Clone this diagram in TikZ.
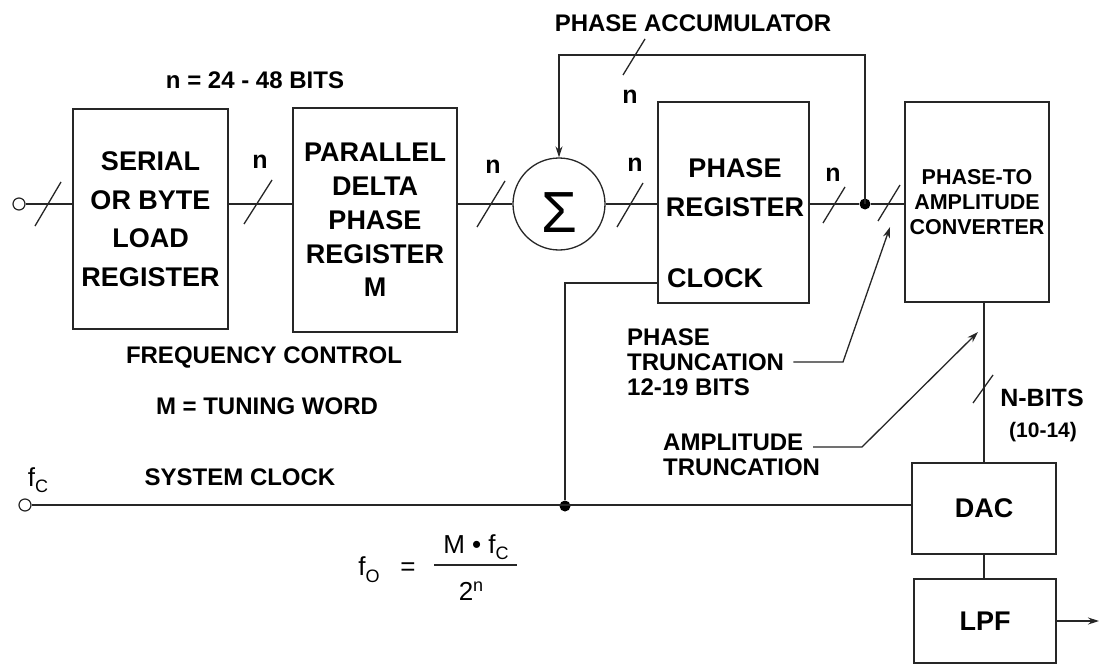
\documentclass[tikz,border=0pt]{standalone}
\usepackage{fontspec}
\setmainfont{Liberation Sans}
\usetikzlibrary{arrows.meta,calc}
\newcommand\busslash[3]{\draw[conn] ([shift={(-#2,#3)}]#1) -- ([shift={(#2,-#3)}]#1);}
\newcommand\subtxt[2]{\raisebox{#1}{\fontsize{18}{18}\selectfont #2}}
\begin{document}
\begin{tikzpicture}[x=1pt,y=-1pt,
 box/.style={draw=black!85,line width=1.8pt,inner sep=0pt,align=center,font=\fontsize{27}{38.5}\selectfont\bfseries},
 boxtext/.style={inner sep=0pt,align=center,font=\fontsize{27}{39}\selectfont\bfseries},
 conn/.style={draw=black!85,line width=1.3pt},
 lbl/.style={inner sep=0pt,font=\fontsize{24}{25}\selectfont\bfseries},
 nlbl/.style={inner sep=0pt,font=\fontsize{25}{25}\selectfont\bfseries},
 frm/.style={inner sep=0pt,font=\fontsize{26}{26}\selectfont},
 dot/.style={circle,fill=black,inner sep=0pt,minimum size=11pt},
 port/.style={circle,draw=black!85,fill=white,line width=1.2pt,inner sep=0pt,minimum size=12pt},
 tip/.style={-{Stealth[length=11pt,width=7pt]}},
]
\fill[white] (0,0) rectangle (1100,666);
\useasboundingbox (0,0) rectangle (1100,666);

% blocks
\node[port] (in) at (19,204) {};
\node[box,minimum width=155pt,minimum height=220pt] (serial) at (150.5,219) {SERIAL\\OR BYTE\\LOAD\\REGISTER};
\node[box,minimum width=164pt,minimum height=224pt,font=\fontsize{27}{33.75}\selectfont\bfseries] (parallel) at (375,220) {PARALLEL\\DELTA\\PHASE\\REGISTER\\M};
\node[circle,draw=black!85,line width=1.3pt,minimum size=92pt,inner sep=0pt,text height=57pt,text depth=0pt,font=\fontsize{58}{58}\selectfont] (sigma) at (559,204) {Σ};
\node[box,minimum width=151pt,minimum height=201pt] (preg) at (733.5,202.5) {};
\node[boxtext] (pregt) at (735,188) {PHASE\\REGISTER};
\node[boxtext] (clk) at (715,278) {CLOCK};
\node[box,minimum width=144pt,minimum height=200pt,font=\fontsize{21.5}{25}\selectfont\bfseries] (pta) at (977,202) {PHASE-TO\\AMPLITUDE\\CONVERTER};
\node[box,minimum width=144pt,minimum height=91pt] (dac) at (984,508.5) {DAC};
\node[box,minimum width=142pt,minimum height=84pt] (lpf) at (985,621) {LPF};
\node[dot] (j1) at (865,204) {};
\node[dot] (j2) at (565,506) {};
\node[port] (clkin) at (25,505) {};

% connectors
\draw[conn] (in.east) -- (in.east -| serial.west);
\draw[conn] (serial.east |- in) -- (parallel.west |- in);
\draw[conn] (parallel.east |- in) -- (sigma.west);
\draw[conn] (sigma.east) -- (sigma.east -| preg.west);
\draw[conn] (preg.east |- sigma) -- (j1);
\draw[conn] (j1) -- (j1 -| pta.west);
\coordinate (fbL) at (559,55);
\draw[conn,tip] (j1.center) |- (fbL) -- (sigma.north);
\coordinate (ck) at (565,283);
\draw[conn] (preg.west |- ck) -- (ck) -- (j2);
\draw[conn] (clkin.east) -- (clkin.east -| dac.west);
\draw[conn] (dac.north |- pta.south) -- (dac.north);
\draw[conn] (dac.south) -- (dac.south |- lpf.north);
\coordinate (out) at (1099,621);
\draw[conn,tip] (lpf.east) -- (out);

% bus slashes
\coordinate (s0) at (48,204);
\coordinate (s1) at (258,202);
\coordinate (s2) at (491,204);
\coordinate (s3) at (630,205);
\coordinate (s4) at (834,205);
\coordinate (s5) at (889,203);
\coordinate (s6) at (634,57);
\coordinate (s7) at (983,389);
\busslash{s0}{13}{22}
\busslash{s1}{14}{22}
\busslash{s2}{14}{23}
\busslash{s3}{13}{22}
\busslash{s4}{11}{18}
\busslash{s5}{11}{18}
\busslash{s6}{11}{18}
\busslash{s7}{10}{14}

% labels
\node[lbl] (nbits) at (255,80) {n = 24 - 48 BITS};
\node[lbl] (acc) at (693,23) {PHASE ACCUMULATOR};
\node[nlbl] (n1) at (260,162) {n};
\node[nlbl] (n2) at (493,167) {n};
\node[nlbl] (n3) at (635,165) {n};
\node[nlbl] (n4) at (833,175) {n};
\node[nlbl] (n5) at (630,97) {n};
\node[lbl] (freq) at (264,357) {FREQUENCY CONTROL};
\node[lbl] (tw) at (267,406) {M = TUNING WORD};
\node[lbl] (sysclk) at (240,477) {SYSTEM CLOCK};
\node[frm] (fc) at (38,480) {f\subtxt{-6pt}{C}};

% formula
\node[frm] (fo) at (369,570) {f\subtxt{-7pt}{O}};
\node[frm] (eq) at (408,569) {=};
\node[frm] (num) at (476,547) {M • f\subtxt{-6pt}{C}};
\node[frm] (den) at (471,591) {2\subtxt{9pt}{n}};
\draw[line width=1.3pt,black!85] (434,565) -- (517,565);

% truncation notes
\node[lbl,align=left,anchor=west] (ptr) at (627,362) {PHASE\\TRUNCATION\\12-19 BITS};
\coordinate (ptrK) at (843,362);
\coordinate (ptrT) at (890,227);
\draw[conn,tip] ([xshift=9pt]ptr.east) -- (ptrK) -- (ptrT);
\node[lbl,align=left,anchor=west] (atr) at (663,454.5) {AMPLITUDE\\TRUNCATION};
\coordinate (atrS) at (813,447);
\coordinate (atrK) at (862,447);
\coordinate (atrT) at (978,332);
\draw[conn,tip] (atrS) -- (atrK) -- (atrT);
\node[nlbl] (nb1) at (1042,398) {N-BITS};
\node[inner sep=0pt,font=\fontsize{21}{21}\selectfont\bfseries] (nb2) at (1043,432) {(10-14)};
\end{tikzpicture}
\end{document}
